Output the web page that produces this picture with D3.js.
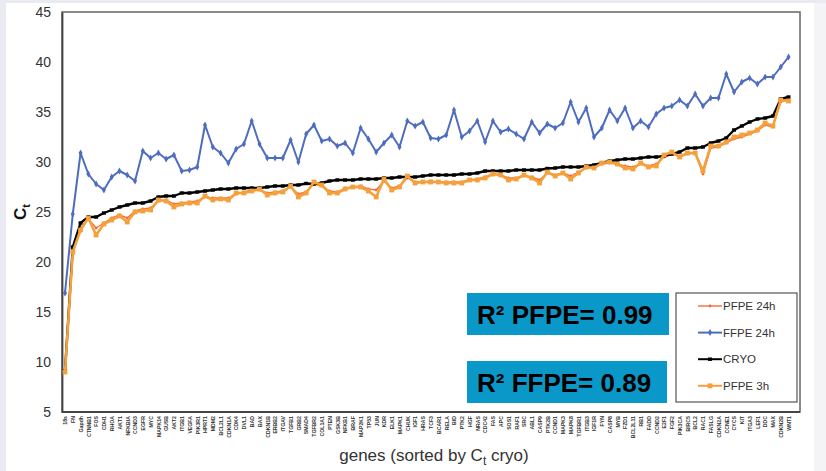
<!DOCTYPE html>
<html>
<head>
<meta charset="utf-8">
<script src="https://cdn.jsdelivr.net/npm/d3@7"></script>
<style>
  html, body { margin: 0; padding: 0; background: #e9eaf2; }
  svg { display: block; font-family: Arial, "Liberation Sans", sans-serif; }
</style>
</head>
<body>
<svg id="chart"></svg>
<script>
const genes = ["18s","FN","Gapdh","CTNNB1","FOS","CDH1","RHOA","AKT1","NFKBIA","CCND3",
  "EGFR","MYC","MAPK14","GUSB","AKT2","ITGB1","VEGFA","PIK3R1","HPRT1","MDM2",
  "BCL2L1","CDKN1A","CDK4","DVL1","BAD","BAX","CDKN1B","ERBB2","ITGAV","TGFB1",
  "GRB2","SMAD4","TGFBR2","COL1A1","PTEN","GSK3B","NFKB1","BRAF","MAP2K1","TP53",
  "JUN","KDR","ELK1","MAPK1","CHUK","IGF1","HRAS","TCF3","BCAR1","RELA",
  "BID","PTK2","HGF","NRAS","CDC42","FAS","APC","SOS1","RAF1","SRC",
  "ABL1","CASP9","PTK2B","CCND1","MAPK3","MAPK8","TGFBR1","ITGB3","IGF1R","FYN",
  "CASP8","MYB","FZD1","BCL2L11","RB1","FADD","CCND2","E2F1","FGF2","PIK3CA",
  "BIRC5","BCL2","RAC1","FASLG","CDKN2A","CCNE1","CYCS","KIT","ITGA3","LEF1",
  "DDC","MAX","CDKN2B","WNT1"];

const pfpe24h = [9.1,21.2,23.4,24.3,23.4,23.9,24.4,24.7,24.4,25.1,
  25.3,25.4,26.1,26.2,25.8,25.9,26.0,26.1,26.5,26.4,
  26.4,26.4,26.8,27.0,27.2,27.2,26.9,27.0,27.1,27.5,
  26.8,27.0,27.8,27.6,27.1,27.0,27.4,27.5,27.6,27.3,
  27.2,28.1,27.4,27.6,28.4,28.0,28.0,28.1,28.0,28.0,
  28.0,28.0,28.2,28.3,28.5,28.8,28.7,28.4,28.4,28.6,
  28.5,28.2,28.9,28.7,28.9,28.6,29.0,29.4,29.5,29.8,
  29.9,29.8,29.6,29.5,29.8,29.6,29.8,30.5,30.8,30.6,
  30.8,30.9,28.8,31.4,31.5,31.9,32.3,32.5,32.8,33.1,
  33.7,33.5,36.0,36.3];

const ffpe24h = [16.9,24.8,30.9,28.8,27.8,27.2,28.5,29.1,28.7,28.1,
  31.1,30.4,30.9,30.3,30.7,29.1,29.2,29.5,33.7,31.5,
  30.9,29.9,31.3,31.8,34.1,31.8,30.4,30.4,30.4,32.2,
  30.0,32.8,33.7,32.1,32.3,31.6,31.9,30.9,33.4,32.3,
  31.0,31.9,32.7,31.5,34.1,33.6,34.0,32.4,32.3,32.7,
  35.2,32.5,33.1,34.1,32.0,34.1,33.0,33.3,32.8,32.3,
  34.0,32.9,33.8,33.4,33.9,36.0,34.0,35.4,32.5,33.4,
  35.2,34.1,35.4,33.4,34.1,33.5,34.8,35.4,35.6,36.2,
  35.6,36.8,35.6,36.4,36.4,38.8,37.0,38.0,38.4,37.8,
  38.5,38.5,39.5,40.5];

const cryo = [9.1,21.5,23.9,24.5,24.5,24.9,25.2,25.5,25.7,25.9,
  25.9,26.1,26.5,26.6,26.6,26.9,26.9,27.0,27.1,27.2,
  27.3,27.3,27.4,27.4,27.4,27.4,27.5,27.6,27.6,27.7,
  27.7,27.85,27.8,27.9,28.1,28.2,28.2,28.2,28.3,28.3,
  28.3,28.4,28.4,28.5,28.5,28.5,28.6,28.7,28.7,28.7,
  28.7,28.8,28.8,28.9,29.1,29.1,29.1,29.1,29.2,29.2,
  29.2,29.2,29.35,29.4,29.5,29.5,29.5,29.6,29.7,29.9,
  30.1,30.2,30.3,30.3,30.4,30.5,30.5,30.6,30.8,31.0,
  31.4,31.4,31.5,31.9,32.1,32.4,33.2,33.6,34.0,34.3,
  34.4,34.6,36.3,36.5];

const pfpe3h = [9.0,21.0,23.2,24.4,22.7,23.8,24.2,24.6,24.0,25.0,
  25.1,25.2,26.2,26.1,25.5,25.8,25.9,25.9,26.6,26.2,
  26.3,26.2,26.9,26.9,27.1,27.3,26.7,26.9,27.0,27.6,
  26.5,26.9,28.0,27.7,26.9,26.9,27.3,27.5,27.5,27.1,
  26.5,28.3,27.2,27.5,28.6,27.9,28.0,28.0,28.0,27.9,
  27.9,27.9,28.2,28.2,28.4,28.8,28.7,28.2,28.3,28.7,
  28.4,27.9,29.0,28.6,28.9,28.3,28.9,29.5,29.4,29.9,
  30.0,29.8,29.4,29.3,29.9,29.5,29.6,30.7,31.0,30.5,
  30.9,30.9,29.1,31.6,31.6,32.0,32.5,32.7,32.9,33.2,
  33.9,33.6,36.2,36.1];

const yTicks = [5, 10, 15, 20, 25, 30, 35, 40, 45];

const rSquared = [
  { label: "PFPE", value: "0.99" },
  { label: "FFPE", value: "0.89" }
];

document.addEventListener("DOMContentLoaded", function() {
  const width = 826;
  const height = 471;
  const margin = { top: 12, right: 18, bottom: 59, left: 62 };

  const svg = d3.select("#chart")
      .attr("width", width)
      .attr("height", height);

  // slide-like background with a white card
  svg.append("rect")
      .attr("x", 6).attr("y", 3)
      .attr("width", width - 6).attr("height", height - 3)
      .attr("fill", "#fff");
  svg.append("rect")
      .attr("x", 814).attr("y", 3)
      .attr("width", 12).attr("height", height - 3)
      .attr("fill", "#f4f4f7");

  const x = d3.scalePoint()
      .domain(genes)
      .range([65, 788.5]);

  const y = d3.scaleLinear()
      .domain([5, 45])
      .range([height - margin.bottom, margin.top]);

  // plot frame
  svg.append("rect")
      .attr("x", margin.left)
      .attr("y", margin.top)
      .attr("width", width - margin.right - 8 - margin.left)
      .attr("height", height - margin.bottom - margin.top)
      .attr("fill", "#fff")
      .attr("stroke", "#666")
      .attr("stroke-width", 1.5);

  // y axis
  const yAxis = svg.append("g")
      .attr("transform", `translate(${margin.left},0)`)
      .call(d3.axisLeft(y).tickValues(yTicks).tickSize(0).tickPadding(11));
  yAxis.select(".domain").attr("stroke", "#444").attr("stroke-width", 1.8);
  yAxis.selectAll("text")
      .attr("font-size", 14)
      .attr("fill", "#333")
      .attr("font-family", "Arial, 'Liberation Sans', sans-serif");

  // x axis with rotated gene names
  const xAxis = svg.append("g")
      .attr("transform", `translate(0,${height - margin.bottom})`)
      .call(d3.axisBottom(x).tickSize(0).tickPadding(0));
  xAxis.select(".domain")
      .attr("d", `M${margin.left},0H${width - margin.right - 8}`)
      .attr("stroke", "#444").attr("stroke-width", 1.8);
  xAxis.selectAll("text")
      .attr("font-size", 5.2)
      .attr("font-weight", "bold")
      .attr("fill", "#333")
      .attr("font-family", "Arial, 'Liberation Sans', sans-serif")
      .attr("text-anchor", "end")
      .attr("dy", "0.35em")
      .attr("transform", "translate(0,4) rotate(-90)")
      .attr("y", 0)
      .attr("x", 0);

  // axis titles
  const yTitle = svg.append("text")
      .attr("transform", `translate(26,212) rotate(-90)`)
      .attr("text-anchor", "middle")
      .attr("font-size", 17)
      .attr("font-weight", "bold")
      .attr("fill", "#111");
  yTitle.append("tspan").text("C");
  yTitle.append("tspan").attr("font-size", 11).attr("dy", 4).text("t");

  const xTitle = svg.append("text")
      .attr("x", 434)
      .attr("y", 461)
      .attr("text-anchor", "middle")
      .attr("font-size", 17)
      .attr("fill", "#333");
  xTitle.append("tspan").text("genes (sorted by C");
  xTitle.append("tspan").attr("font-size", 12).attr("dy", 4).text("t");
  xTitle.append("tspan").attr("dy", -4).text(" cryo)");

  const series = [
    { name: "PFPE 24h", values: pfpe24h, color: "#ef6f3c", width: 1.4, marker: "dot" },
    { name: "FFPE 24h", values: ffpe24h, color: "#4e6dbf", width: 2, marker: "diamond" },
    { name: "CRYO", values: cryo, color: "#000", width: 2.4, marker: "dash" },
    { name: "PFPE 3h", values: pfpe3h, color: "#f5a03a", width: 2.6, marker: "square" }
  ];

  const line = d3.line()
      .x((d, i) => x(genes[i]))
      .y(d => y(d));

  function drawMarkers(g, s, pts) {
    if (s.marker === "diamond") {
      g.selectAll("path.m").data(pts).enter().append("path")
          .attr("class", "m")
          .attr("d", d3.symbol().type(d3.symbolDiamond).size(14))
          .attr("transform", d => `translate(${d[0]},${d[1]})`)
          .attr("fill", s.color);
    } else if (s.marker === "square") {
      g.selectAll("rect.m").data(pts).enter().append("rect")
          .attr("class", "m")
          .attr("x", d => d[0] - 2.4).attr("y", d => d[1] - 2.4)
          .attr("width", 4.8).attr("height", 4.8)
          .attr("fill", s.color);
    } else if (s.marker === "dash") {
      g.selectAll("rect.m").data(pts).enter().append("rect")
          .attr("class", "m")
          .attr("x", d => d[0] - 2).attr("y", d => d[1] - 1.7)
          .attr("width", 4).attr("height", 3.4)
          .attr("fill", s.color);
    } else {
      g.selectAll("circle.m").data(pts).enter().append("circle")
          .attr("class", "m")
          .attr("cx", d => d[0]).attr("cy", d => d[1])
          .attr("r", 1.4)
          .attr("fill", s.color);
    }
  }

  series.forEach(s => {
    const g = svg.append("g").attr("class", "series");
    g.append("path")
        .datum(s.values)
        .attr("d", line)
        .attr("fill", "none")
        .attr("stroke", s.color)
        .attr("stroke-width", s.width)
        .attr("stroke-linejoin", "round");
    drawMarkers(g, s, s.values.map((v, i) => [x(genes[i]), y(v)]));
  });

  // R² boxes
  const rBox = svg.selectAll(".rbox")
      .data(rSquared)
      .enter()
      .append("g")
      .attr("class", "rbox")
      .attr("transform", (d, i) => `translate(467,${293 + i * 68})`);
  rBox.append("rect")
      .attr("width", (d, i) => i === 0 ? 202 : 200)
      .attr("height", 42)
      .attr("fill", "#0a98c9");
  rBox.append("text")
      .attr("x", 10)
      .attr("y", 31)
      .attr("font-size", 26)
      .attr("font-weight", "bold")
      .attr("fill", "#000")
      .text(d => `R² ${d.label}= ${d.value}`);

  // legend
  const legend = svg.append("g").attr("transform", "translate(676,293)");
  legend.append("rect")
      .attr("width", 121)
      .attr("height", 109)
      .attr("fill", "#fff")
      .attr("stroke", "#555")
      .attr("stroke-width", 1.2);
  const items = legend.selectAll(".item")
      .data(series)
      .enter()
      .append("g")
      .attr("class", "item")
      .attr("transform", (d, i) => `translate(0,${13 + i * 26.6})`);
  items.append("line")
      .attr("x1", 22).attr("x2", 46)
      .attr("stroke", d => d.color)
      .attr("stroke-width", d => Math.min(d.width, 2));
  items.each(function(d) {
    drawMarkers(d3.select(this), d, [[34, 0]]);
  });
  items.append("text")
      .attr("x", 47)
      .attr("dy", "0.35em")
      .attr("font-size", 11.5)
      .attr("fill", "#333")
      .text(d => d.name);
});
</script>
</body>
</html>
